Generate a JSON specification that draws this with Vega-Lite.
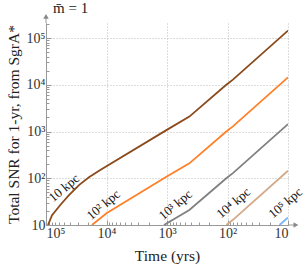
{
  "$schema": "https://vega.github.io/schema/vega-lite/v6.json",
  "width": 242,
  "height": 202,
  "autosize": "none",
  "padding": {"left": 46, "top": 23, "right": 18, "bottom": 45},
  "title": {"text": "m̄ = 1", "anchor": "start", "frame": "group", "font": "Liberation Serif", "fontSize": 15, "fontWeight": "normal", "dx": 7, "offset": -2, "color": "#222"},
  "config": {"view": {"stroke": null}, "font": "Liberation Serif"},
  "datasets": {
    "curves": [
      {"d": "10", "t": 92683, "snr": 10},
      {"d": "10", "t": 79433, "snr": 16.2},
      {"d": "10", "t": 56234, "snr": 28.2},
      {"d": "10", "t": 41687, "snr": 43.7},
      {"d": "10", "t": 28184, "snr": 72.4},
      {"d": "10", "t": 19498, "snr": 104.7},
      {"d": "10", "t": 12882, "snr": 147.9},
      {"d": "10", "t": 1023, "snr": 1072},
      {"d": "10", "t": 427, "snr": 2089},
      {"d": "10", "t": 104.7, "snr": 10000},
      {"d": "10", "t": 81.3, "snr": 12882},
      {"d": "10", "t": 10, "snr": 144544},
      {"d": "100", "t": 17378, "snr": 10},
      {"d": "100", "t": 10000, "snr": 17.8},
      {"d": "100", "t": 1023, "snr": 107.2},
      {"d": "100", "t": 427, "snr": 208.9},
      {"d": "100", "t": 104.7, "snr": 1000},
      {"d": "100", "t": 81.3, "snr": 1288},
      {"d": "100", "t": 10, "snr": 14454},
      {"d": "1000", "t": 1122, "snr": 10},
      {"d": "1000", "t": 427, "snr": 20.9},
      {"d": "1000", "t": 104.7, "snr": 100},
      {"d": "1000", "t": 81.3, "snr": 128.8},
      {"d": "1000", "t": 10, "snr": 1445},
      {"d": "10000", "t": 104.7, "snr": 10},
      {"d": "10000", "t": 81.3, "snr": 12.9},
      {"d": "10000", "t": 10, "snr": 144.5},
      {"d": "100000", "t": 13.8, "snr": 10},
      {"d": "100000", "t": 10, "snr": 14.45}
    ],
    "labels": [
      {"label": "10 kpc", "t": 50119, "snr": 61.7},
      {"label": "10² kpc", "t": 11220, "snr": 26.9},
      {"label": "10³ kpc", "t": 724, "snr": 26.9},
      {"label": "10⁴ kpc", "t": 79.4, "snr": 29.5},
      {"label": "10⁵ kpc", "t": 11, "snr": 29.5}
    ]
  },
  "layer": [
    {
      "data": {"name": "curves"},
      "mark": {"type": "line", "strokeWidth": 1.8, "clip": true},
      "encoding": {
        "x": {
          "field": "t", "type": "quantitative",
          "scale": {"type": "log", "domain": [10, 100000], "reverse": true, "nice": false},
          "axis": {
            "title": "Time (yrs)", "titleFontSize": 15.5, "titleFontWeight": "normal", "titleColor": "#222", "titleFont": "Liberation Serif", "titlePadding": 6,
            "values": [10,20,30,40,50,60,70,80,90,100,200,300,400,500,600,700,800,900,1000,2000,3000,4000,5000,6000,7000,8000,9000,10000,20000,30000,40000,50000,60000,70000,80000,90000,100000],
            "labelExpr": "datum.value==10?'10':datum.value==100?'10²':datum.value==1000?'10³':datum.value==10000?'10⁴':datum.value==100000?'10⁵':''",
            "labelFontSize": 14, "labelColor": "#333", "labelFont": "Liberation Serif", "labelPadding": 6,
            "domainColor": "#999", "tickColor": "#999",
            "tickSize": {"condition": {"test": "datum.value==10||datum.value==100||datum.value==1000||datum.value==10000||datum.value==100000", "value": -5}, "value": -3},
            "grid": true, "gridDash": [1, 2], "gridColor": "#bbb",
            "gridOpacity": {"condition": {"test": "datum.value==10||datum.value==100||datum.value==1000||datum.value==10000||datum.value==100000", "value": 1}, "value": 0},
            "labelOverlap": false
          }
        },
        "y": {
          "field": "snr", "type": "quantitative",
          "scale": {"type": "log", "domain": [10, 210000], "nice": false},
          "axis": {
            "title": "Total SNR for 1-yr, from SgrA*", "titleFontSize": 15.5, "titleFontWeight": "normal", "titleColor": "#222", "titleFont": "Liberation Serif", "titlePadding": 5,
            "values": [10,20,30,40,50,60,70,80,90,100,200,300,400,500,600,700,800,900,1000,2000,3000,4000,5000,6000,7000,8000,9000,10000,20000,30000,40000,50000,60000,70000,80000,90000,100000,200000],
            "labelExpr": "datum.value==10?'10':datum.value==100?'10²':datum.value==1000?'10³':datum.value==10000?'10⁴':datum.value==100000?'10⁵':''",
            "labelFontSize": 14, "labelColor": "#333", "labelFont": "Liberation Serif", "labelPadding": 6,
            "domainColor": "#999", "tickColor": "#999",
            "tickSize": {"condition": {"test": "datum.value==10||datum.value==100||datum.value==1000||datum.value==10000||datum.value==100000", "value": -5}, "value": -3},
            "grid": true, "gridDash": [1, 2], "gridColor": "#bbb",
            "gridOpacity": {"condition": {"test": "datum.value==10||datum.value==100||datum.value==1000||datum.value==10000||datum.value==100000", "value": 1}, "value": 0},
            "labelOverlap": false
          }
        },
        "color": {
          "field": "d", "type": "nominal",
          "scale": {"domain": ["10", "100", "1000", "10000", "100000"], "range": ["#8b4a1c", "#ff8028", "#808080", "#d2aa8a", "#78b4fa"]},
          "legend": null
        }
      }
    },
    {
      "data": {"name": "labels"},
      "mark": {"type": "text", "angle": -40, "fontSize": 13, "font": "Liberation Serif", "color": "#111", "clip": false},
      "encoding": {
        "x": {"field": "t", "type": "quantitative"},
        "y": {"field": "snr", "type": "quantitative"},
        "text": {"field": "label"}
      }
    },
    {
      "data": {"values": [{}]},
      "mark": {"type": "rule", "color": "#999", "clip": false},
      "encoding": {
        "x": {"datum": 10},
        "x2": {"datum": 7.2},
        "y": {"datum": 10}
      }
    },
    {
      "data": {"values": [{}]},
      "mark": {"type": "rule", "color": "#999", "clip": false},
      "encoding": {
        "x": {"datum": 100000},
        "y": {"datum": 210000},
        "y2": {"datum": 300000}
      }
    },
    {
      "data": {"values": [{}]},
      "mark": {"type": "point", "shape": "triangle-right", "filled": true, "size": 30, "color": "#888", "opacity": 1, "clip": false},
      "encoding": {
        "x": {"datum": 7.4},
        "y": {"datum": 10}
      }
    },
    {
      "data": {"values": [{}]},
      "mark": {"type": "point", "shape": "triangle-up", "filled": true, "size": 30, "color": "#888", "opacity": 1, "clip": false},
      "encoding": {
        "x": {"datum": 100000},
        "y": {"datum": 290000}
      }
    }
  ]
}
